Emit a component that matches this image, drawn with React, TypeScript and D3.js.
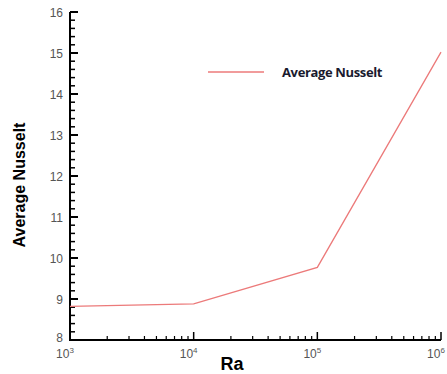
import React, { useEffect, useRef } from "react";
import * as d3 from "d3";

const raValues = [1e3, 1e4, 1e5, 1e6];
const nusseltValues = [8.82, 8.88, 9.77, 15.02];
const yTicks = [8, 9, 10, 11, 12, 13, 14, 15, 16];
const xExponents = [3, 4, 5, 6];
const seriesName = "Average Nusselt";

const App = () => {
  const ref = useRef<SVGSVGElement>(null);

  useEffect(() => {
    const W = 447;
    const H = 374;
    const svg = d3.select(ref.current).attr("width", W).attr("height", H);
    svg.selectAll("*").remove();

    const x = d3.scaleLog().domain([1e3, 1e6]).range([70, 441]);
    const y = d3.scaleLinear().domain([8, 16]).range([340, 12]);
    const tickColor = "#555";
    const font = "Liberation Sans, Arial, sans-serif";

    // y minor ticks
    const yMinor = d3.range(8, 16.001, 0.2).filter((v) => Math.abs(v - Math.round(v)) > 0.01);
    svg.append("g").selectAll("line").data(yMinor).enter().append("line")
      .attr("x1", x(1e3)).attr("x2", x(1e3) + 5)
      .attr("y1", (d) => y(d)).attr("y2", (d) => y(d))
      .attr("stroke", "#000").attr("stroke-width", 1.5);
    svg.append("g").selectAll("line").data(yTicks).enter().append("line")
      .attr("x1", x(1e3)).attr("x2", x(1e3) + 8)
      .attr("y1", (d) => y(d)).attr("y2", (d) => y(d))
      .attr("stroke", "#000").attr("stroke-width", 2);
    svg.append("g").selectAll("text").data(yTicks).enter().append("text")
      .attr("x", 63).attr("y", (d) => y(d) + (d === 8 ? 2 : 5))
      .attr("text-anchor", "end")
      .attr("font-family", font).attr("font-size", 12)
      .attr("fill", tickColor)
      .text((d) => d);

    // x minor ticks
    const xMinor: number[] = [];
    for (let e = 3; e < 6; e++) for (let m = 2; m <= 9; m++) xMinor.push(m * Math.pow(10, e));
    svg.append("g").selectAll("line").data(xMinor).enter().append("line")
      .attr("x1", (d) => x(d)).attr("x2", (d) => x(d))
      .attr("y1", y(8)).attr("y2", y(8) - 4)
      .attr("stroke", "#000").attr("stroke-width", 1.2);
    svg.append("g").selectAll("line").data(raValues).enter().append("line")
      .attr("x1", (d) => x(d)).attr("x2", (d) => x(d))
      .attr("y1", y(8)).attr("y2", y(8) - 8)
      .attr("stroke", "#000").attr("stroke-width", 1.5);
    const xl = svg.append("g").selectAll("text").data(xExponents).enter().append("text")
      .attr("x", (e) => x(Math.pow(10, e)) - 5).attr("y", 358)
      .attr("text-anchor", "middle")
      .attr("font-family", font).attr("font-size", 12)
      .attr("fill", tickColor);
    xl.append("tspan").text("10");
    xl.append("tspan").attr("font-size", 8).attr("dy", -5).text((e) => e);

    // axes lines
    svg.append("line").attr("x1", x(1e3)).attr("x2", x(1e3)).attr("y1", y(16)).attr("y2", y(8))
      .attr("stroke", "#000").attr("stroke-width", 2);
    svg.append("line").attr("x1", x(1e3)).attr("x2", x(1e3) + 8).attr("y1", y(16)).attr("y2", y(16))
      .attr("stroke", "#000").attr("stroke-width", 2);
    svg.append("line").attr("x1", x(1e3) - 1).attr("x2", x(1e6)).attr("y1", y(8)).attr("y2", y(8))
      .attr("stroke", "#000").attr("stroke-width", 2);

    // data line
    const line = d3.line<number>()
      .x((_, i) => x(raValues[i]))
      .y((d) => y(d));
    svg.append("path").attr("d", line(nusseltValues))
      .attr("fill", "none").attr("stroke", "#ec7a7a").attr("stroke-width", 1.3);

    // legend
    svg.append("line").attr("x1", 208).attr("x2", 264).attr("y1", 72).attr("y2", 72)
      .attr("stroke", "#ec7a7a").attr("stroke-width", 1.3);
    svg.append("text").attr("x", 282).attr("y", 77)
      .attr("font-family", "Open Sans, sans-serif").attr("font-weight", "bold")
      .attr("font-size", 13).attr("letter-spacing", -0.5).attr("fill", "#1a1a2e")
      .attr("textLength", 100)
      .text(seriesName);

    // axis titles
    svg.append("text").attr("x", 232).attr("y", 370)
      .attr("text-anchor", "middle")
      .attr("font-family", font).attr("font-weight", "bold").attr("font-size", 18)
      .text("Ra");
    svg.append("text")
      .attr("transform", `translate(25,185) rotate(-90)`)
      .attr("text-anchor", "middle")
      .attr("font-family", font).attr("font-weight", "bold").attr("font-size", 16)
      .text("Average Nusselt");
  }, []);

  return (
    <div style={{ position: "fixed", left: 0, top: 0 }}>
      <svg ref={ref} style={{ display: "block", background: "#fff" }}></svg>
    </div>
  );
};

export default App;
